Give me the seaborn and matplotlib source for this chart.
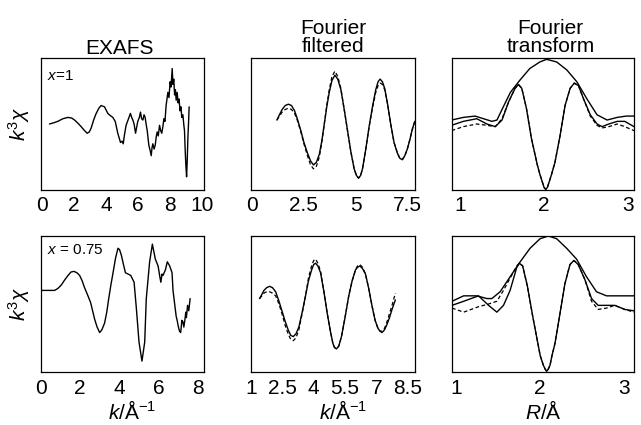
import matplotlib
matplotlib.use("Agg")
import matplotlib.pyplot as plt
import seaborn as sns
import pandas as pd

# ---------------- data (arbitrary y units 0..1) ----------------
# EXAFS, x = 1
exafs1_k = [0.46, 0.75, 0.98, 1.30, 1.61, 1.85, 2.03, 2.25, 2.44, 2.65,
            2.82, 2.95, 3.07, 3.22, 3.38, 3.55, 3.69, 3.90,
            4.11, 4.25, 4.42, 4.57, 4.73, 4.90, 5.00, 5.07, 5.15, 5.25, 5.40,
            5.52, 5.60, 5.67, 5.75, 5.84, 5.98, 6.08, 6.15, 6.22, 6.30,
            6.37, 6.44, 6.50, 6.57, 6.67, 6.75, 6.82, 6.87, 6.92, 7.00,
            7.07, 7.13, 7.19, 7.26, 7.34, 7.41, 7.48, 7.55, 7.61, 7.68,
            7.75, 7.86, 7.93, 8.00, 8.06, 8.13, 8.18, 8.23, 8.28, 8.33,
            8.38, 8.44, 8.50, 8.56, 8.62, 8.68, 8.73, 8.80, 8.86, 8.90,
            8.94, 8.98, 9.03, 9.07, 9.11, 9.15, 9.19]
exafs1_y = [0.50, 0.51, 0.52, 0.54, 0.55, 0.545, 0.53, 0.505, 0.48, 0.45,
            0.43, 0.44, 0.47, 0.53, 0.58, 0.62, 0.64, 0.63,
            0.58, 0.565, 0.55, 0.52, 0.43, 0.36, 0.37, 0.35, 0.42, 0.49, 0.54,
            0.58, 0.55, 0.53, 0.50, 0.43, 0.52, 0.55, 0.59, 0.54, 0.53,
            0.57, 0.55, 0.50, 0.45, 0.34, 0.30, 0.26, 0.32, 0.35, 0.31,
            0.34, 0.40, 0.44, 0.41, 0.49, 0.45, 0.43, 0.48, 0.54, 0.52,
            0.64, 0.74, 0.70, 0.82, 0.78, 0.92, 0.80, 0.84, 0.72, 0.76,
            0.68, 0.74, 0.66, 0.69, 0.60, 0.63, 0.55, 0.57, 0.49, 0.45,
            0.31, 0.20, 0.10, 0.22, 0.39, 0.50, 0.63]

# EXAFS, x = 0.75
exafs2_k = [0.00, 0.50, 0.70, 0.87, 1.04, 1.20, 1.38, 1.53, 1.68, 1.83,
            1.97, 2.10, 2.22, 2.38, 2.53, 2.63, 2.73, 2.86, 2.99, 3.10,
            3.24, 3.35, 3.45, 3.56, 3.67, 3.80, 3.92, 4.00, 4.09, 4.20,
            4.30, 4.57, 4.74, 4.86, 4.99,
            5.14, 5.28, 5.36, 5.53, 5.67, 5.82, 5.96, 6.05, 6.10, 6.16,
            6.21, 6.33, 6.43, 6.55, 6.67, 6.72, 6.77, 6.88, 6.93, 6.98,
            7.05, 7.11, 7.17, 7.22, 7.27, 7.32, 7.37, 7.40, 7.46, 7.52,
            7.59]
exafs2_y = [0.60, 0.60, 0.60, 0.615, 0.64, 0.675, 0.71, 0.735, 0.74, 0.73,
            0.71, 0.67, 0.62, 0.565, 0.51, 0.45, 0.39, 0.33, 0.29, 0.31,
            0.36, 0.44, 0.54, 0.64, 0.73, 0.84, 0.91, 0.90, 0.86, 0.79,
            0.73, 0.71, 0.66, 0.46, 0.22,
            0.08, 0.22, 0.54, 0.81, 0.94, 0.83, 0.78, 0.70, 0.66, 0.72,
            0.71, 0.75, 0.81, 0.78, 0.73, 0.60, 0.54, 0.41, 0.38, 0.34,
            0.30, 0.29, 0.38, 0.37, 0.33, 0.38, 0.44, 0.40, 0.49, 0.45,
            0.54]

# Fourier filtered, x = 1 (solid = experiment, dashed = fit)
filt1_k = [1.20, 1.32, 1.45, 1.60, 1.75, 1.90, 2.05, 2.20, 2.35, 2.50,
           2.67, 2.82, 2.96, 3.10, 3.24, 3.36, 3.48, 3.60, 3.72, 3.85,
           3.99, 4.13, 4.28, 4.44, 4.60, 4.76, 4.92, 5.03, 5.13, 5.23,
           5.32, 5.48, 5.64, 5.80, 5.96, 6.07, 6.17, 6.28, 6.39, 6.53,
           6.68, 6.84, 7.00, 7.12, 7.24, 7.36, 7.48, 7.60, 7.72, 7.84]
filt1_exp = [0.53, 0.57, 0.61, 0.64, 0.65, 0.64, 0.60, 0.53, 0.45, 0.36,
             0.28, 0.22, 0.19, 0.21, 0.27, 0.37, 0.50, 0.63, 0.74, 0.83,
             0.87, 0.84, 0.76, 0.61, 0.45, 0.29, 0.16, 0.11, 0.09, 0.11,
             0.16, 0.31, 0.48, 0.63, 0.76, 0.82, 0.84, 0.82, 0.77, 0.65,
             0.50, 0.36, 0.28, 0.24, 0.23, 0.26, 0.31, 0.38, 0.46, 0.52]
filt1_fit = [0.53, 0.56, 0.59, 0.61, 0.62, 0.61, 0.58, 0.52, 0.44, 0.35,
             0.26, 0.19, 0.16, 0.18, 0.25, 0.36, 0.50, 0.64, 0.76, 0.86,
             0.90, 0.86, 0.77, 0.61, 0.45, 0.29, 0.16, 0.11, 0.09, 0.11,
             0.16, 0.31, 0.48, 0.62, 0.74, 0.79, 0.81, 0.80, 0.76, 0.65,
             0.50, 0.36, 0.28, 0.24, 0.23, 0.26, 0.31, 0.38, 0.46, 0.52]

# Fourier filtered, x = 0.75
filt2_k = [1.41, 1.52, 1.62, 1.75, 1.89, 2.03, 2.18, 2.34, 2.50, 2.64,
           2.78, 2.90, 3.02, 3.15, 3.29, 3.45, 3.61, 3.75, 3.90, 4.00,
           4.09, 4.20, 4.33, 4.49, 4.65, 4.80, 4.92, 5.00, 5.09, 5.20,
           5.33, 5.50, 5.68, 5.84, 6.00, 6.10, 6.21, 6.34, 6.48, 6.64,
           6.80, 6.94, 7.08, 7.18, 7.27, 7.39, 7.51, 7.63, 7.75, 7.84,
           7.91]
filt2_exp = [0.54, 0.57, 0.60, 0.62, 0.63, 0.62, 0.59, 0.52, 0.44, 0.37,
             0.31, 0.27, 0.26, 0.28, 0.33, 0.44, 0.56, 0.67, 0.75, 0.79,
             0.80, 0.78, 0.73, 0.59, 0.43, 0.30, 0.21, 0.18, 0.17, 0.19,
             0.26, 0.40, 0.56, 0.67, 0.75, 0.77, 0.78, 0.76, 0.72, 0.61,
             0.48, 0.38, 0.32, 0.30, 0.29, 0.31, 0.35, 0.40, 0.46, 0.50,
             0.53]
filt2_fit = [0.54, 0.56, 0.58, 0.59, 0.59, 0.58, 0.56, 0.50, 0.42, 0.34,
             0.28, 0.24, 0.23, 0.25, 0.31, 0.43, 0.56, 0.69, 0.78, 0.82,
             0.83, 0.80, 0.74, 0.59, 0.43, 0.30, 0.21, 0.18, 0.17, 0.19,
             0.26, 0.40, 0.56, 0.67, 0.75, 0.78, 0.79, 0.77, 0.72, 0.61,
             0.48, 0.38, 0.32, 0.30, 0.30, 0.32, 0.37, 0.43, 0.49, 0.54,
             0.58]

# Fourier transform, x = 1 : magnitude (envelope), oscillating part, fit (dashed)
ft1_env_R = [0.90, 1.04, 1.18, 1.28, 1.38, 1.44, 1.50, 1.60, 1.71, 1.83,
             1.95, 2.03, 2.15, 2.27, 2.39, 2.51, 2.63, 2.75, 2.87, 2.98, 3.07]
ft1_env_y = [0.53, 0.55, 0.56, 0.54, 0.52, 0.53, 0.61, 0.74, 0.83, 0.92,
             0.97, 0.99, 0.97, 0.91, 0.82, 0.69, 0.57, 0.53, 0.55, 0.56, 0.56]
ft1_osc_R = [0.90, 1.04, 1.20, 1.32, 1.42, 1.50, 1.58, 1.655, 1.695, 1.735,
             1.79, 1.85, 1.92, 1.95, 1.98, 2.00, 2.02, 2.04, 2.06, 2.09,
             2.13, 2.19, 2.25, 2.31, 2.36, 2.41, 2.47, 2.55, 2.63, 2.69,
             2.77, 2.87, 2.96, 3.07]
ft1_osc_y = [0.49, 0.52, 0.54, 0.50, 0.48, 0.53, 0.67, 0.77, 0.80, 0.77,
             0.62, 0.39, 0.19, 0.12, 0.06, 0.02, 0.005, 0.02, 0.06, 0.12,
             0.21, 0.41, 0.64, 0.77, 0.81, 0.79, 0.69, 0.57, 0.50, 0.48,
             0.50, 0.52, 0.52, 0.48]
ft1_fit_y = [0.45, 0.48, 0.50, 0.49, 0.48, 0.54, 0.67, 0.77, 0.80, 0.77,
             0.62, 0.39, 0.19, 0.12, 0.06, 0.02, 0.005, 0.02, 0.06, 0.12,
             0.21, 0.41, 0.64, 0.77, 0.81, 0.79, 0.69, 0.56, 0.49, 0.47,
             0.48, 0.50, 0.48, 0.45]

# Fourier transform, x = 0.75
ft2_env_R = [0.946, 1.085, 1.244, 1.363, 1.422, 1.521, 1.64, 1.76, 1.879, 1.998,
             2.097, 2.196, 2.315, 2.434, 2.553, 2.672, 2.791, 2.91, 3.12]
ft2_env_y = [0.52, 0.56, 0.56, 0.54, 0.54, 0.59, 0.70, 0.81, 0.91, 0.98,
             1.00, 0.98, 0.91, 0.83, 0.70, 0.59, 0.56, 0.56, 0.56]
ft2_osc_R = [0.946, 1.085, 1.263, 1.383, 1.482, 1.561, 1.64, 1.72, 1.75, 1.79,
             1.847, 1.91, 1.978, 2.00, 2.037, 2.06, 2.077, 2.095, 2.117, 2.14,
             2.176, 2.236, 2.295, 2.355, 2.402, 2.454, 2.533, 2.613, 2.692, 2.791,
             2.89, 3.01, 3.12]
ft2_osc_y = [0.49, 0.52, 0.56, 0.49, 0.44, 0.49, 0.60, 0.77, 0.80, 0.78,
             0.63, 0.41, 0.19, 0.12, 0.05, 0.02, 0.005, 0.02, 0.05, 0.12,
             0.21, 0.43, 0.65, 0.79, 0.82, 0.79, 0.68, 0.54, 0.49, 0.49,
             0.49, 0.46, 0.45]
ft2_fit_y = [0.47, 0.44, 0.48, 0.50, 0.52, 0.60, 0.69, 0.78, 0.80, 0.78,
             0.63, 0.41, 0.19, 0.12, 0.05, 0.02, 0.005, 0.02, 0.05, 0.12,
             0.21, 0.43, 0.65, 0.79, 0.82, 0.79, 0.68, 0.52, 0.46, 0.47,
             0.49, 0.46, 0.44]

# axis ticks
ticks_exafs1 = [0, 2, 4, 6, 8, 10]
ticks_filt1 = [0, 2.5, 5, 7.5]
ticks_ft = [1, 2, 3]
ticks_exafs2 = [0, 2, 4, 6, 8]
ticks_filt2 = [1, 2.5, 4, 5.5, 7, 8.5]

# ---------------- style ----------------
sns.set_theme(style="white")
plt.rcParams['font.family'] = ['Liberation Sans', 'DejaVu Sans']
plt.rcParams['mathtext.fontset'] = 'custom'
plt.rcParams['mathtext.rm'] = 'Liberation Sans'
plt.rcParams['mathtext.it'] = 'Liberation Sans:italic'
plt.rcParams['mathtext.bf'] = 'Liberation Sans:bold'
plt.rcParams['axes.edgecolor'] = 'black'
plt.rcParams['axes.linewidth'] = 0.9
plt.rcParams['text.color'] = 'black'
plt.rcParams['axes.labelcolor'] = 'black'
plt.rcParams['axes.titlecolor'] = 'black'
plt.rcParams['xtick.color'] = 'black'
plt.rcParams['ytick.color'] = 'black'

FS = 15
LW = 1.0

fig = plt.figure(figsize=(6.41, 4.25), dpi=100)
W, H = 641.0, 425.0


def make_ax(x0, x1, y0, y1):
    return fig.add_axes([x0 / W, 1 - y1 / H, (x1 - x0) / W, (y1 - y0) / H])


ax1 = make_ax(40.5, 204.5, 58, 190)
ax2 = make_ax(251, 415, 58, 190)
ax3 = make_ax(452, 634, 58, 190)
ax4 = make_ax(40.5, 203.5, 236, 372)
ax5 = make_ax(251, 415, 236, 372)
ax6 = make_ax(452, 634, 236, 372)


def line(ax, x, y, dashed=False):
    df = pd.DataFrame({"x": x, "y": y})
    kw = dict(color="black", linewidth=LW, estimator=None, sort=False, legend=False)
    if dashed:
        kw["linestyle"] = (0, (3.0, 2.0))
        kw["linewidth"] = 0.9
    sns.lineplot(data=df, x="x", y="y", ax=ax, **kw)


line(ax1, exafs1_k, exafs1_y)
line(ax4, exafs2_k, exafs2_y)
line(ax2, filt1_k, filt1_fit, dashed=True)
line(ax2, filt1_k, filt1_exp)
line(ax5, filt2_k, filt2_fit, dashed=True)
line(ax5, filt2_k, filt2_exp)
line(ax3, ft1_osc_R, ft1_fit_y, dashed=True)
line(ax3, ft1_env_R, ft1_env_y)
line(ax3, ft1_osc_R, ft1_osc_y)
line(ax6, ft2_osc_R, ft2_fit_y, dashed=True)
line(ax6, ft2_env_R, ft2_env_y)
line(ax6, ft2_osc_R, ft2_osc_y)

limits = {
    ax1: (-0.1, 10.15), ax2: (-0.05, 7.85), ax3: (0.905, 3.07),
    ax4: (-0.02, 8.27), ax5: (1.0, 8.85), ax6: (0.946, 3.12),
}
ticks = {
    ax1: ticks_exafs1, ax2: ticks_filt1, ax3: ticks_ft,
    ax4: ticks_exafs2, ax5: ticks_filt2, ax6: ticks_ft,
}
for ax in [ax1, ax2, ax3, ax4, ax5, ax6]:
    ax.set_xlim(*limits[ax])
    ax.set_ylim(0, 1.0)
    ax.set_xticks(ticks[ax])
    ax.set_xticklabels([("%g" % t) for t in ticks[ax]])
    ax.set_yticks([])
    ax.tick_params(axis='x', length=0, pad=4, labelsize=FS, colors='black')
    ax.set_xlabel("")
    ax.set_ylabel("")
    for s in ax.spines.values():
        s.set_visible(True)
        s.set_color("black")
        s.set_linewidth(0.9)

for ax in [ax4, ax5, ax6]:
    ax.tick_params(axis='x', pad=5)

ax1.set_ylabel(r"$k^3\chi$", fontsize=FS, labelpad=6, color='black')
ax4.set_ylabel(r"$k^3\chi$", fontsize=FS, labelpad=6, color='black')

ax1.set_title("EXAFS", fontsize=FS, pad=3, x=0.48, color='black')
ax2.set_title("Fourier\nfiltered", fontsize=FS, pad=4, linespacing=0.95, color='black')
ax3.set_title("Fourier\ntransform", fontsize=FS, pad=4, linespacing=0.95, x=0.54,
              color='black')

ax4.set_xlabel(r"$k$/Å$^{-1}$", fontsize=FS, labelpad=0, color='black')
ax5.set_xlabel(r"$k$/Å$^{-1}$", fontsize=FS, labelpad=0, color='black')
ax6.set_xlabel(r"$R$/Å", fontsize=FS, labelpad=0, color='black')
ax4.xaxis.set_label_coords(0.56, -0.205)
ax5.xaxis.set_label_coords(0.56, -0.205)
ax6.xaxis.set_label_coords(0.50, -0.205)
for ax in [ax4, ax5, ax6]:
    ax.xaxis.label.set_verticalalignment("top")

ax1.text(0.04, 0.86, r"$x$=1", transform=ax1.transAxes, fontsize=11,
         va="center", ha="left", color='black')
ax4.text(0.04, 0.90, r"$x$ = 0.75", transform=ax4.transAxes, fontsize=11,
         va="center", ha="left", color='black')

fig.savefig("out.png", dpi=100, facecolor="white")
